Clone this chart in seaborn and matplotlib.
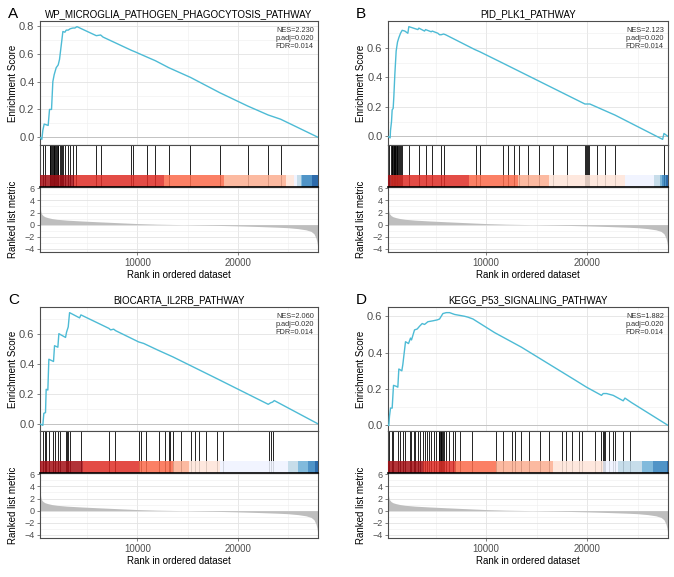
import matplotlib
matplotlib.use('Agg')
import matplotlib.pyplot as plt
import seaborn as sns
from matplotlib.ticker import MultipleLocator

sns.set_theme(style='white')
plt.rcParams['font.family'] = ['Liberation Sans', 'DejaVu Sans']

# ── DATA ──────────────────────────────────────────────────────────────────────
letters = ['A', 'B', 'C', 'D']
titles = ['WP_MICROGLIA_PATHOGEN_PHAGOCYTOSIS_PATHWAY', 'PID_PLK1_PATHWAY',
          'BIOCARTA_IL2RB_PATHWAY', 'KEGG_P53_SIGNALING_PATHWAY']
nes = ['2.230', '2.123', '2.060', '1.882']
padj = ['0.020', '0.020', '0.020', '0.020']
fdr = ['0.014', '0.014', '0.014', '0.014']

# ranked list metric (same ranked list in all panels)
metric_rank = [300, 330, 380, 450, 600, 800, 1100, 1500, 2000, 3000, 4500, 6000,
               8000, 10000, 12000, 14000, 16000, 18000, 20000, 22000, 24000,
               25000, 26000, 26800, 27300, 27600, 27800, 27900, 28000]
metric_val = [3.8, 2.8, 2.2, 1.8, 1.5, 1.3, 1.15, 1.0, 0.88, 0.74, 0.6, 0.48,
              0.33, 0.18, 0.08, 0.02, -0.05, -0.12, -0.2, -0.3, -0.42,
              -0.5, -0.65, -0.85, -1.1, -1.5, -2.2, -2.9, -3.9]

# running enrichment score, read as (rank, ES) vertices
es_rank_a = [300, 483, 583, 716, 1115, 1248, 1448, 1580, 1714, 1913, 2113, 2246, 2380,
             2580, 2780, 2912, 3112, 3312, 3580, 3780, 3980, 5910, 6340, 6580, 9400,
             9740, 11000, 11800, 13130, 15300, 18220, 20980, 23040, 24270, 28000]
es_a = [0.0, -0.015, 0.05, 0.095, 0.085, 0.2, 0.2, 0.40, 0.45, 0.50, 0.52, 0.56, 0.64,
        0.76, 0.755, 0.77, 0.77, 0.78, 0.785, 0.785, 0.795, 0.73, 0.735, 0.72, 0.625,
        0.615, 0.575, 0.55, 0.50, 0.43, 0.32, 0.225, 0.16, 0.13, 0.0]

es_rank_b = [300, 514, 547, 646, 712, 811, 877, 976, 1108, 1240, 1372, 1537, 1702, 1966,
             2263, 2362, 3254, 3353, 3915, 4014, 4576, 4675, 5236, 5400, 5566, 5797,
             5996, 8870, 9370, 11580, 19780, 20270, 21920, 22750, 27470, 27600, 28000]
es_b = [0.0, -0.01, 0.04, 0.10, 0.18, 0.19, 0.27, 0.42, 0.58, 0.64, 0.67, 0.70, 0.72,
        0.715, 0.70, 0.745, 0.725, 0.735, 0.715, 0.725, 0.71, 0.715, 0.70, 0.69, 0.69,
        0.695, 0.69, 0.59, 0.575, 0.50, 0.22, 0.22, 0.17, 0.145, -0.02, 0.02, 0.0]

es_rank_c = [300, 582, 682, 849, 915, 1082, 1182, 1647, 1747, 2080, 2180, 2845, 2945,
             3112, 3246, 4244, 4377, 7172, 7338, 7638, 7838, 10134, 10633, 12064,
             13228, 13560, 17953, 18552, 23044, 23277, 23477, 23643, 28000]
es_c = [0.0, -0.01, 0.07, 0.075, 0.23, 0.225, 0.43, 0.415, 0.52, 0.51, 0.60, 0.575,
        0.61, 0.645, 0.74, 0.705, 0.725, 0.635, 0.625, 0.63, 0.62, 0.545, 0.535, 0.49,
        0.455, 0.445, 0.30, 0.28, 0.13, 0.14, 0.145, 0.155, 0.0]

es_rank_d = [300, 382, 448, 547, 712, 844, 1108, 1273, 1372, 1669, 1768, 2032, 2329,
             2527, 2626, 2924, 3188, 3419, 3683, 3915, 4245, 4741, 5170, 5400, 5731,
             6061, 6392, 6887, 7383, 7879, 8209, 8705, 10850, 13500, 18780, 19940,
             21420, 21590, 21920, 22580, 23570, 23740, 24400, 28000]
es_d = [0.0, 0.0, 0.05, 0.095, 0.095, 0.22, 0.215, 0.21, 0.31, 0.30, 0.335, 0.46, 0.45,
        0.48, 0.47, 0.525, 0.53, 0.545, 0.56, 0.555, 0.57, 0.575, 0.58, 0.585, 0.615,
        0.62, 0.62, 0.61, 0.605, 0.60, 0.595, 0.585, 0.51, 0.43, 0.25, 0.21,
        0.165, 0.175, 0.175, 0.165, 0.135, 0.15, 0.125, 0.0]

# gene set hit positions (ranks)
hits_a = [583, 749, 1260, 1330, 1420, 1500, 1580, 1650, 1720, 1800, 1880, 1950, 2050,
          2130, 2250, 2380, 2500, 2580, 2745, 3080, 3310, 3580, 3910, 5910, 6340,
          9400, 9570, 10990, 11800, 13130, 15290, 18220, 20980, 23040, 24270]
hits_b = [448, 620, 680, 740, 800, 860, 920, 980, 1040, 1100, 1160, 1230, 1300, 1370,
          1440, 1540, 1700, 2362, 3353, 4047, 4675, 5534, 5864, 8970, 9400, 11710,
          12210, 12770, 13300, 14120, 15250, 16670, 17990, 19740, 19900, 19980, 20060,
          20140, 20970, 21730, 22790, 27580]
hits_c = [582, 749, 915, 1148, 1581, 1747, 2080, 2246, 2912, 3012, 3112, 3246, 4344,
          7172, 7738, 10134, 10333, 10899, 12130, 12729, 13128, 13295, 13561, 14393,
          15325, 15724, 16123, 16888, 17887, 18486, 23144, 23277, 23477]
hits_d = [448, 679, 844, 1273, 1438, 1768, 2000, 2428, 2593, 2825, 2990, 3254, 3419,
          3750, 3915, 4146, 4344, 4576, 4807, 5071, 5300, 5370, 5440, 5510, 5580, 5650,
          5720, 5800, 6061, 6292, 6722, 6887, 7383, 8639, 11018, 11678, 12603, 12834,
          13495, 14255, 15312, 16237, 17559, 17955, 18516, 19210, 19540, 20763, 21420,
          21530, 21640, 21750, 22180, 22510, 22742, 23502, 24229]

# colour bar: band edges (ranks) for the 10 brewer colours, dark red -> dark blue
band_colors = ['#A50F15', '#DE2D26', '#FB6A4A', '#FCAE91', '#FEE5D9',
               '#EFF3FF', '#BDD7E7', '#6BAED6', '#3182BD', '#08519C']
bands_a = [300, 3700, 12700, 18600, 24800, 25600, 25900, 26350, 26450, 27400, 28000]
bands_b = [300, 600, 8300, 13160, 16200, 23740, 26640, 27200, 27450, 27800, 28000]
bands_c = [300, 4540, 10200, 13530, 15190, 18190, 25000, 26000, 27000, 27670, 28000]
bands_d = [300, 3750, 6890, 11020, 16630, 21590, 23070, 25390, 26540, 27870, 28000]

es_ranks = [es_rank_a, es_rank_b, es_rank_c, es_rank_d]
es_vals = [es_a, es_b, es_c, es_d]
hits = [hits_a, hits_b, hits_c, hits_d]
bands = [bands_a, bands_b, bands_c, bands_d]

# ── LAYOUT (pixels) ───────────────────────────────────────────────────────────
W, H = 674, 577
fig = plt.figure(figsize=(W / 100, H / 100), dpi=100)

def px_axes(left, top, width, height):
    return fig.add_axes([left / W, 1 - (top + height) / H, width / W, height / H])

origins = [(40, 21, 278), (388, 21, 280), (40, 307, 278), (388, 307, 280)]
H_ES, H_HIT, H_RANK = 124, 42, 65
XLIM = (300, 28000)
LINE = '#4DBBD5'
FRAME = '#4D4D4D'
TXT = '#4D4D4D'

def style_frame(ax):
    for s in ax.spines.values():
        s.set_visible(True)
        s.set_color(FRAME)
        s.set_linewidth(0.8)

def grid_x(ax):
    ax.xaxis.set_major_locator(MultipleLocator(10000))
    ax.xaxis.set_minor_locator(MultipleLocator(5000))
    ax.grid(which='major', color='#E3E3E3', linewidth=0.6)
    ax.grid(which='minor', color='#EEEEEE', linewidth=0.4)
    ax.set_axisbelow(True)

for i in range(4):
    left, top, width = origins[i]

    # enrichment score panel
    ax1 = px_axes(left, top, width, H_ES)
    ax1.axhline(0, color='#BDBDBD', linewidth=0.6, zorder=1)
    sns.lineplot(x=es_ranks[i], y=es_vals[i], ax=ax1, color=LINE, linewidth=1.0,
                 estimator=None, sort=False, zorder=3)
    ax1.set_xlim(XLIM)
    ax1.margins(y=0.05)
    grid_x(ax1)
    ax1.yaxis.set_major_locator(MultipleLocator(0.2))
    ax1.yaxis.set_minor_locator(MultipleLocator(0.1))
    ax1.tick_params(axis='x', which='both', bottom=False, labelbottom=False)
    ax1.tick_params(axis='y', which='major', left=True, length=2.5, width=0.5,
                    color=TXT, labelsize=8, labelcolor=TXT, pad=1.5)
    ax1.tick_params(axis='y', which='minor', left=False)
    ax1.yaxis.set_major_formatter(matplotlib.ticker.FormatStrFormatter('%.1f'))
    ax1.set_ylabel('Enrichment Score', fontsize=7, color='black')
    ax1.yaxis.set_label_coords(-0.08, 0.5)
    ax1.set_title(titles[i], fontsize=7, color='black', pad=3)
    ax1.text(0.985, 0.955, f'NES={nes[i]}\np.adj={padj[i]}\nFDR={fdr[i]}',
             transform=ax1.transAxes, ha='right', va='top', fontsize=5.3,
             color='#333333', linespacing=1.25)
    style_frame(ax1)
    fig.text((left - 32) / W, 1 - (top - 7) / H, letters[i], fontsize=11,
             ha='left', va='center', color='black')

    # hits + colour bar panel
    ax2 = px_axes(left, top + H_ES, width, H_HIT)
    ax2.vlines(hits[i], 0, 1, color='black', linewidth=0.6, zorder=2)
    b = bands[i]
    for k in range(10):
        if b[k + 1] > b[k]:
            ax2.axvspan(b[k], b[k + 1], ymin=0, ymax=12 / H_HIT,
                        color=band_colors[k], alpha=0.85, linewidth=0, zorder=3)
    ax2.set_xlim(XLIM)
    ax2.set_ylim(0, 1)
    ax2.set_xticks([])
    ax2.set_yticks([])
    style_frame(ax2)

    # ranked list metric panel
    ax3 = px_axes(left, top + H_ES + H_HIT, width, H_RANK)
    ax3.fill_between(metric_rank, 0, metric_val, color='#BEBEBE', linewidth=0, zorder=2)
    ax3.set_xlim(XLIM)
    ax3.set_ylim(-4.5, 6.2)
    grid_x(ax3)
    ax3.yaxis.set_major_locator(MultipleLocator(2))
    ax3.yaxis.set_minor_locator(MultipleLocator(1))
    ax3.set_xticks([10000, 20000])
    ax3.set_xticklabels(['10000', '20000'])
    ax3.tick_params(axis='x', which='major', bottom=True, length=2.5, width=0.5,
                    color=TXT, labelsize=7, labelcolor=TXT, pad=1.5)
    ax3.tick_params(axis='y', which='major', left=True, length=2.5, width=0.5,
                    color=TXT, labelsize=6.5, labelcolor=TXT, pad=1.5)
    ax3.tick_params(which='minor', bottom=False, left=False)
    ax3.set_ylabel('Ranked list metric', fontsize=7, color='black')
    ax3.yaxis.set_label_coords(-0.08, 0.5)
    ax3.set_xlabel('Rank in ordered dataset', fontsize=7, color='black', labelpad=2)
    style_frame(ax3)
    ax3.spines['top'].set_color('black')
    ax3.spines['top'].set_linewidth(1.2)

fig.savefig('out.png', dpi=100)
